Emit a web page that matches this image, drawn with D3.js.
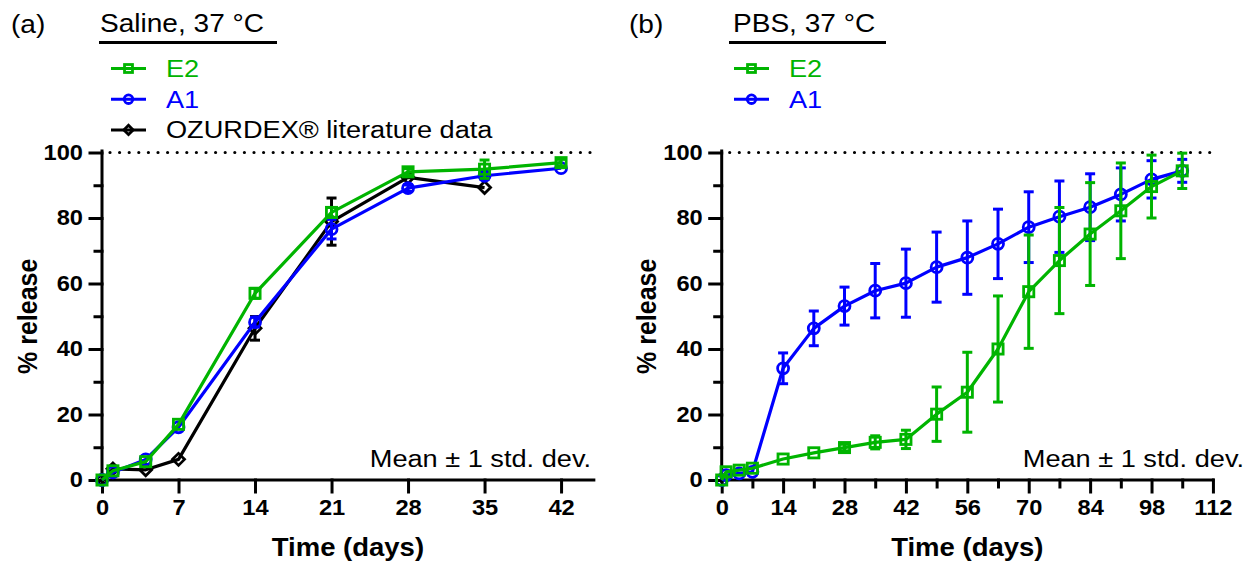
<!DOCTYPE html>
<html>
<head>
<meta charset="utf-8">
<script src="https://cdn.jsdelivr.net/npm/d3@7"></script>
<style>
  html, body { margin: 0; padding: 0; background: #fff; }
  svg { display: block; }
  text { font-family: "Liberation Sans", Arial, Helvetica, sans-serif; }
</style>
</head>
<body>
<svg id="chart" width="1257" height="569"></svg>
<script>
// ---------------- DATA ----------------
const daysSaline = [0, 1, 4, 7, 14, 21, 28, 35, 42];
const salineE2   = [0, 2.8, 5.6, 17.0, 57.0, 81.7, 94.1, 94.9, 96.9];
const salineE2SD = [0, 0.4, 0.5, 0.8, 1.5, 1.5, 1.0, 2.8, 1.0];
const salineA1   = [0, 2.3, 6.3, 16.1, 48.2, 76.6, 89.1, 92.9, 95.2];
const salineA1SD = [0, 0.3, 0.5, 0.6, 1.5, 3.0, 1.0, 1.0, 0.8];
const daysOzurdex = [0, 1, 4, 7, 14, 21, 28, 35];
const ozurdex     = [0, 3.4, 3.1, 6.3, 46.3, 78.9, 92.4, 89.3];
const ozurdexSD   = [0, 0, 0, 0, 3.6, 7.2, 0, 0];

const daysPBS  = [0, 1, 4, 7, 14, 21, 28, 35, 42, 49, 56, 63, 70, 77, 84, 91, 98, 105];
const pbsE2    = [0, 2.5, 3.0, 3.6, 6.4, 8.3, 9.9, 11.5, 12.4, 20.1, 26.8, 40.0, 57.5, 67.0, 75.1, 82.2, 89.6, 94.4];
const pbsE2SD  = [0, 0.3, 0.5, 0.5, 0.6, 0.8, 1.0, 2.0, 2.8, 8.3, 12.2, 16.2, 17.3, 16.2, 15.7, 14.6, 9.6, 5.4];
const pbsA1    = [0, 1.5, 2.0, 2.5, 34.1, 46.3, 53.1, 57.8, 60.1, 65.0, 67.9, 72.1, 77.2, 80.4, 83.3, 87.2, 91.8, 94.4];
const pbsA1SD  = [0, 0.3, 0.5, 0.5, 4.7, 5.3, 5.8, 8.3, 10.4, 10.7, 11.2, 10.6, 10.8, 10.9, 10.2, 8.1, 5.7, 3.5];

const yMajorTicks = [0, 20, 40, 60, 80, 100];
const yMinorTicks = [10, 30, 50, 70, 90];
const xTicksSaline = [0, 7, 14, 21, 28, 35, 42];
const xTicksPBS = [0, 14, 28, 42, 56, 70, 84, 98, 112];
const xMinorPBS = [7, 21, 35, 49, 63, 77, 91, 105];

const panelLabels = ["(a)", "(b)"];
const panelTitles = ["Saline, 37 °C", "PBS, 37 °C"];
const legendSaline = ["E2", "A1", "OZURDEX® literature data"];
const legendPBS = ["E2", "A1"];
const xTitle = "Time (days)";
const yTitle = "% release";
const noteText = "Mean ± 1 std. dev.";

// ---------------- STYLE ----------------
const GREEN = "#00b400";
const BLUE = "#0000ff";
const BLACK = "#000000";
const SX = 1.1; // horizontal text stretch of the reference

const svg = d3.select("#chart");

function addText(g, x, y, str, o) {
  o = o || {};
  const rot = o.rotate ? ` rotate(${o.rotate}) scale(1,${SX})` : ` scale(${SX},1)`;
  return g.append("text")
    .attr("transform", `translate(${x},${y})` + rot)
    .attr("font-size", o.size || 24)
    .attr("font-weight", o.bold ? "bold" : "normal")
    .attr("text-anchor", o.anchor || "start")
    .attr("fill", o.color || "#000")
    .text(str);
}

function stretchTicks(g) {
  g.selectAll(".tick text").each(function () {
    const t = d3.select(this);
    const x = +t.attr("x") || 0, y = +t.attr("y") || 0;
    t.attr("x", null).attr("y", null)
     .attr("transform", `translate(${x},${y}) scale(${SX},1)`);
  });
}

function marker(g, type, x, y, color, s) {
  s = s || 1;
  if (type === "square") {
    const h = 5.1 * s;
    g.append("rect").attr("x", x - h).attr("y", y - h).attr("width", 2 * h).attr("height", 2 * h)
      .attr("fill", "none").attr("stroke", color).attr("stroke-width", 2.8);
  } else if (type === "circle") {
    g.append("circle").attr("cx", x).attr("cy", y).attr("r", 5.5 * s)
      .attr("fill", "none").attr("stroke", color).attr("stroke-width", 2.8);
  } else {
    const h = 6 * s;
    g.append("path").attr("d", `M${x},${y - h}L${x + h},${y}L${x},${y + h}L${x - h},${y}Z`)
      .attr("fill", "none").attr("stroke", color).attr("stroke-width", 2.8);
  }
}

function drawPanel(cfg) {
  const g = svg.append("g");
  const x = d3.scaleLinear().domain(cfg.xDomain).range(cfg.xRange);
  const y = d3.scaleLinear().domain([0, 100]).range([480, 152.5]);

  // dotted 100% line
  g.append("line")
    .attr("x1", x(0) + 8).attr("x2", cfg.dotEnd)
    .attr("y1", y(100)).attr("y2", y(100))
    .attr("stroke", "#000").attr("stroke-width", 3.2)
    .attr("stroke-linecap", "round").attr("stroke-dasharray", "0 9.6");

  // Y axis
  const yMinor = g.append("g").attr("transform", `translate(${x(0)},0)`)
    .call(d3.axisLeft(y).tickValues(yMinorTicks).tickSize(7).tickFormat(""));
  const yAx = g.append("g").attr("transform", `translate(${x(0)},0)`)
    .call(d3.axisLeft(y).tickValues(yMajorTicks).tickSize(12).tickPadding(7).tickSizeOuter(0));
  // X axis
  const xMinor = g.append("g").attr("transform", `translate(0,${y(0)})`)
    .call(d3.axisBottom(x).tickValues(cfg.xMinor).tickSize(7).tickFormat(""));
  const xAx = g.append("g").attr("transform", `translate(0,${y(0)})`)
    .call(d3.axisBottom(x).tickValues(cfg.xTicks).tickSize(12).tickPadding(8).tickSizeOuter(0));
  xAx.select(".domain").attr("d", `M${x(0)},0H${x(cfg.xDomain[1])}`);
  yAx.select(".domain").attr("d", `M0,${y(0) + 1.5}V${y(100) - 1.5}`);
  [yMinor, xMinor].forEach(a => a.select(".domain").remove());
  [yMinor, yAx, xMinor, xAx].forEach(a => {
    a.selectAll("line, path").attr("stroke", "#000").attr("stroke-width", 3).attr("stroke-linecap", "square");
    a.selectAll("text").attr("font-size", 21.5).attr("font-weight", "bold")
      .attr("font-family", '"Liberation Sans", Arial, sans-serif').attr("fill", "#000");
  });
  stretchTicks(yAx); stretchTicks(xAx);

  // axis titles
  addText(g, (x(0) + x(cfg.xDomain[1])) / 2, 556, xTitle, { size: 25, bold: true, anchor: "middle" });
  addText(g, x(0) - 65.5, (y(0) + y(100)) / 2, yTitle, { size: 25, bold: true, anchor: "middle", rotate: -90 });

  // series
  const line = d3.line().x(d => x(d[0])).y(d => y(d[1]));
  cfg.series.forEach(s => {
    const pts = s.days.map((d, i) => [d, s.vals[i], s.sd[i]]);
    g.append("path").datum(pts).attr("d", line)
      .attr("fill", "none").attr("stroke", s.color).attr("stroke-width", 3.2).attr("stroke-linejoin", "round");
    pts.forEach(p => {
      if (p[2] > 0.9) {
        const cx = x(p[0]), y1 = y(p[1] + p[2]), y2 = y(p[1] - p[2]);
        g.append("line").attr("x1", cx).attr("x2", cx).attr("y1", y1).attr("y2", y2)
          .attr("stroke", s.color).attr("stroke-width", 3);
        [y1, y2].forEach(yy => g.append("line").attr("x1", cx - 5).attr("x2", cx + 5).attr("y1", yy).attr("y2", yy)
          .attr("stroke", s.color).attr("stroke-width", 3));
      }
    });
    pts.forEach(p => marker(g, s.marker, x(p[0]), y(p[1]), s.color));
  });

  // panel label, title, underline
  addText(g, cfg.labelX, 33, cfg.label, { size: 25.5 });
  addText(g, cfg.titleX, 32, cfg.title, { size: 25.5 });
  g.append("line").attr("x1", cfg.ulX[0]).attr("x2", cfg.ulX[1]).attr("y1", 42.5).attr("y2", 42.5)
    .attr("stroke", "#000").attr("stroke-width", 3.2);

  // legend
  cfg.legend.forEach((name, i) => {
    const s = cfg.legendSeries[i];
    const ly = 68.5 + i * 30.7;
    g.append("line").attr("x1", cfg.legX).attr("x2", cfg.legX + 35).attr("y1", ly).attr("y2", ly)
      .attr("stroke", s.color).attr("stroke-width", 3);
    marker(g, s.marker, cfg.legX + 17.5, ly, s.color, 0.78);
    addText(g, cfg.legX + 55, ly + 8.5, name, { size: 24.7, color: s.color });
  });

  // note
  addText(g, cfg.noteX, 467, noteText, { size: 24.7, anchor: "end" });
}

const sE2 = { days: daysSaline, vals: salineE2, sd: salineE2SD, color: GREEN, marker: "square" };
const sA1 = { days: daysSaline, vals: salineA1, sd: salineA1SD, color: BLUE, marker: "circle" };
const sOz = { days: daysOzurdex, vals: ozurdex, sd: ozurdexSD, color: BLACK, marker: "diamond" };
const pE2 = { days: daysPBS, vals: pbsE2, sd: pbsE2SD, color: GREEN, marker: "square" };
const pA1 = { days: daysPBS, vals: pbsA1, sd: pbsA1SD, color: BLUE, marker: "circle" };

drawPanel({
  xDomain: [0, 45], xRange: [102, 102 + 45 * 10.93],
  xTicks: xTicksSaline, xMinor: [], dotEnd: 592,
  series: [sOz, sA1, sE2],
  label: panelLabels[0], labelX: 11, title: panelTitles[0], titleX: 100, ulX: [99, 277],
  legend: legendSaline, legendSeries: [sE2, sA1, sOz], legX: 111,
  noteX: 591
});
drawPanel({
  xDomain: [0, 112], xRange: [721.7, 721.7 + 112 * 4.386],
  xTicks: xTicksPBS, xMinor: xMinorPBS, dotEnd: 1212,
  series: [pA1, pE2],
  label: panelLabels[1], labelX: 629, title: panelTitles[1], titleX: 733, ulX: [729, 886],
  legend: legendPBS, legendSeries: [pE2, pA1], legX: 734,
  noteX: 1244
});
</script>
</body>
</html>
